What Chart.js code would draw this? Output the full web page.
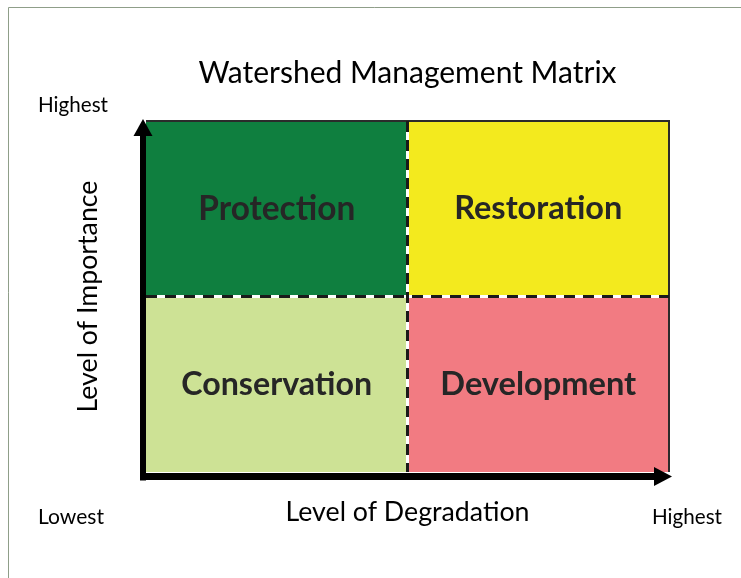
<!DOCTYPE html>
<html>
<head>
<meta charset="utf-8">
<script src="https://cdn.jsdelivr.net/npm/chart.js@4.4.0/dist/chart.umd.min.js"></script>
<style>
  body { margin: 0; background: #fff; }
  canvas { display: block; }
</style>
</head>
<body>
<canvas id="matrixChart" width="741" height="578"></canvas>
<script>
// Categorieen en waarden van de matrix
const degradation = ["Low", "High"];          // x-as: Level of Degradation
const lowImportance = [1, 1];                 // onderste rij
const highImportance = [1, 1];                // bovenste rij
const lowNames = ["Conservation", "Development"];
const highNames = ["Protection", "Restoration"];
const lowColors = ["#cde295", "#f27b82"];
const highColors = ["#0f7f3f", "#f3ea1e"];

const chartTitle = "Watershed Management Matrix";
const xTitle = "Level of Degradation";
const yTitle = "Level of Importance";

const FONT = "Lato, 'Open Sans', sans-serif";

// Lettergrootte zo kiezen dat de tekst een bepaalde breedte krijgt
function fitFont(ctx, text, weight, width) {
    ctx.font = weight + " 20px " + FONT;
    const size = 20 * width / ctx.measureText(text).width;
    return weight + " " + size.toFixed(2) + "px " + FONT;
}

function drawText(ctx, text, weight, width, x, y, align) {
    ctx.font = fitFont(ctx, text, weight, width);
    ctx.textAlign = align || "center";
    ctx.textBaseline = "middle";
    ctx.fillText(text, x, y);
}

const matrixPlugin = {
    id: "matrix",
    afterDatasetsDraw(chart) {
        const ctx = chart.ctx;
        const area = chart.chartArea;
        const x = chart.scales.x;
        const y = chart.scales.y;
        const midX = x.getPixelForValue(0.5);
        const midY = y.getPixelForValue(1);

        ctx.save();
        // dunne rand boven en rechts
        ctx.strokeStyle = "#2b2b2b";
        ctx.lineWidth = 2;
        ctx.beginPath();
        ctx.moveTo(area.left, area.top);
        ctx.lineTo(area.right, area.top);
        ctx.lineTo(area.right, area.bottom);
        ctx.stroke();

        // gestippelde scheidingslijnen
        ctx.lineWidth = 3;
        ctx.strokeStyle = "#ffffff";
        ctx.beginPath();
        ctx.moveTo(area.left, midY); ctx.lineTo(area.right, midY);
        ctx.moveTo(midX, area.top); ctx.lineTo(midX, area.bottom);
        ctx.stroke();
        ctx.strokeStyle = "#1a1a1a";
        ctx.setLineDash([11, 8]);
        ctx.beginPath();
        ctx.moveTo(area.left, midY); ctx.lineTo(area.right, midY);
        ctx.moveTo(midX, area.top); ctx.lineTo(midX, area.bottom);
        ctx.stroke();
        ctx.setLineDash([]);

        // namen in de vakken
        ctx.fillStyle = "#262626";
        const labelWidths = { Protection: 157, Restoration: 168, Conservation: 191, Development: 196 };
        [chart.getDatasetMeta(0), chart.getDatasetMeta(1)].forEach((meta, d) => {
            const names = d === 0 ? lowNames : highNames;
            meta.data.forEach((bar, i) => {
                const cy = (bar.y + bar.base) / 2;
                drawText(ctx, names[i], "bold", labelWidths[names[i]], bar.x, cy);
            });
        });

        // assen met pijlen
        ctx.fillStyle = "#000";
        const ax = area.left - 3;
        const ay = area.bottom + 4.5;
        ctx.fillRect(ax - 3, area.top + 15, 6, ay + 4 - area.top - 15);
        ctx.beginPath();
        ctx.moveTo(ax, area.top - 2);
        ctx.lineTo(ax - 9.5, area.top + 15);
        ctx.lineTo(ax + 9.5, area.top + 15);
        ctx.closePath();
        ctx.fill();
        ctx.fillRect(ax - 3, ay - 3.5, area.right - 15 - ax + 3, 7);
        ctx.beginPath();
        ctx.moveTo(area.right + 3, ay);
        ctx.lineTo(area.right - 15, ay - 9.5);
        ctx.lineTo(area.right - 15, ay + 9.5);
        ctx.closePath();
        ctx.fill();

        // titels en labels
        ctx.fillStyle = "#000";
        drawText(ctx, chartTitle, "normal", 418, midX, 73);
        drawText(ctx, "Highest", "normal", 70, 38, 105, "left");
        drawText(ctx, "Lowest", "normal", 66, 38, 517, "left");
        drawText(ctx, "Highest", "normal", 70, 652, 517, "left");
        drawText(ctx, xTitle, "normal", 244, midX, 512);
        ctx.translate(88, midY);
        ctx.rotate(-Math.PI / 2);
        drawText(ctx, yTitle, "normal", 232, 0, 0);
        ctx.restore();

        // rand van de afbeelding
        ctx.save();
        ctx.strokeStyle = "#8f9e89";
        ctx.lineWidth = 1;
        ctx.beginPath();
        ctx.moveTo(8.5, chart.height);
        ctx.lineTo(8.5, 7.5);
        ctx.lineTo(chart.width, 7.5);
        ctx.stroke();
        ctx.restore();
    }
};

const ctx = document.getElementById("matrixChart").getContext("2d");
new Chart(ctx, {
    type: "bar",
    data: {
        labels: degradation,
        datasets: [
            {
                label: "Low importance",
                data: lowImportance,
                backgroundColor: lowColors,
                barPercentage: 1,
                categoryPercentage: 1
            },
            {
                label: "High importance",
                data: highImportance,
                backgroundColor: highColors,
                barPercentage: 1,
                categoryPercentage: 1
            }
        ]
    },
    options: {
        responsive: false,
        animation: false,
        layout: {
            padding: { left: 146, right: 72, top: 121, bottom: 106 }
        },
        plugins: {
            legend: { display: false },
            tooltip: { enabled: false }
        },
        scales: {
            x: { display: false, stacked: true },
            y: { display: false, stacked: true, min: 0, max: 2 }
        }
    },
    plugins: [matrixPlugin]
});
</script>
</body>
</html>
